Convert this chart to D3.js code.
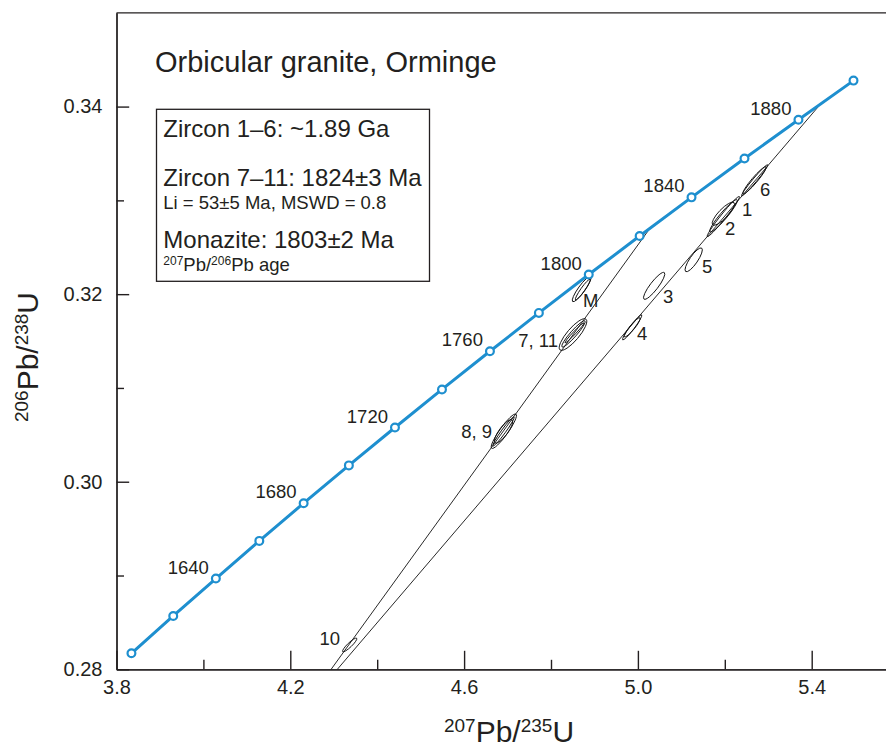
<!DOCTYPE html>
<html>
<head>
<meta charset="utf-8">
<script src="https://cdn.jsdelivr.net/npm/d3@7"></script>
<style>
  html, body { margin: 0; padding: 0; background: #fff; }
  svg { display: block; font-family: "Liberation Sans", Arial, Helvetica, sans-serif; }
</style>
</head>
<body>
<svg id="chart" width="886" height="749"></svg>
<script>
// Concordia points every 20 Ma (age, 207Pb/235U, 206Pb/238U)
const concordiaAge = [1600, 1620, 1640, 1660, 1680, 1700, 1720, 1740, 1760, 1780, 1800, 1820, 1840, 1860, 1880, 1900];
const concordiaX = [3.8344, 3.9306, 4.0287, 4.1287, 4.2307, 4.3348, 4.4409, 4.5491, 4.6595, 4.7721, 4.8869, 5.0040, 5.1234, 5.2453, 5.3695, 5.4962];
const concordiaY = [0.28171, 0.28569, 0.28968, 0.29369, 0.29771, 0.30174, 0.30578, 0.30984, 0.31391, 0.31800, 0.32209, 0.32620, 0.33032, 0.33446, 0.33860, 0.34277];
const labelledAges = [1640, 1680, 1720, 1760, 1800, 1840, 1880];

// Discordia chords: [x1, y1, x2, y2]
const discordiaZircon7to11 = [5.0277, 0.32702, 0.05358, 0.008256]; // 1824 Ma to 53 Ma
const discordiaZircon1to6 = [5.419, 0.3402, 4.200, 0.27413];

// Error ellipses: major-axis ends (x1, y1, x2, y2) and minor/major ratio
const ellipseX1 = [4.8499, 4.8564, 4.8207, 4.8253, 4.8322, 5.1721, 5.1597, 5.1659, 5.2389, 5.2419, 5.1100, 5.0140, 4.9650, 4.9691, 4.6635, 4.6665, 4.6711, 4.3206];
const ellipseY1 = [0.31921, 0.31939, 0.31406, 0.31438, 0.31481, 0.32739, 0.32614, 0.32665, 0.33049, 0.33070, 0.32241, 0.31947, 0.31513, 0.31545, 0.30357, 0.30382, 0.30414, 0.28188];
const ellipseX2 = [4.8914, 4.8898, 4.8805, 4.8782, 4.8759, 5.2212, 5.2334, 5.2281, 5.2987, 5.2948, 5.1468, 5.0608, 5.0087, 5.0048, 4.7194, 4.7148, 4.7103, 4.3528];
const ellipseY2 = [0.32188, 0.32158, 0.31733, 0.31715, 0.31694, 0.32977, 0.33041, 0.33006, 0.33379, 0.33358, 0.32491, 0.32230, 0.31779, 0.31747, 0.30720, 0.30691, 0.30659, 0.28331];
const ellipseRatio = [0.22, 0.16, 0.30, 0.18, 0.10, 0.30, 0.10, 0.17, 0.10, 0.16, 0.28, 0.24, 0.14, 0.20, 0.20, 0.12, 0.30, 0.22];

// Analysis labels: text, position and anchor
const pointLabelText = ["6", "1", "2", "5", "3", "4", "M", "7, 11", "8, 9", "10"];
const pointLabelX = [5.2810, 5.2396, 5.2005, 5.1475, 5.0578, 4.9979, 4.8737, 4.8161, 4.6642, 4.3144];
const pointLabelY = [0.33049, 0.32835, 0.32633, 0.32227, 0.31907, 0.31513, 0.31865, 0.31438, 0.30467, 0.28259];
const pointLabelAnchor = ["start", "start", "start", "start", "start", "start", "start", "end", "end", "end"];

// Axis ticks
const xMajorTicks = [3.8, 4.2, 4.6, 5.0, 5.4];
const xMinorTicks = [4.0, 4.4, 4.8, 5.2];
const yMajorTicks = [0.28, 0.30, 0.32, 0.34];
const yMinorTicks = [0.29, 0.31, 0.33];

const titleText = "Orbicular granite, Orminge";

const svg = d3.select("#chart");
const ink = "#231f20";
const blue = "#1e8fcf";

const plotLeft = 116.5, plotTop = 12.8, plotBottom = 669.3;
const x = d3.scaleLinear().domain([3.8, 5.6]).range([plotLeft, plotLeft + 1.8 * 434.5]);
const y = d3.scaleLinear().domain([0.28, 0.35]).range([plotBottom, plotTop]);

svg.append("defs").append("clipPath").attr("id", "plotClip")
  .append("rect").attr("x", plotLeft).attr("y", plotTop)
  .attr("width", x.range()[1] - plotLeft).attr("height", plotBottom - plotTop);

// Frame top line
svg.append("line")
  .attr("x1", plotLeft).attr("x2", x.range()[1])
  .attr("y1", plotTop).attr("y2", plotTop)
  .attr("stroke", ink).attr("stroke-width", 1.3);

// Axes with inward ticks
function styleAxis(g) {
  g.select(".domain").attr("stroke", ink).attr("stroke-width", 1.3);
  g.selectAll(".tick line").attr("stroke", ink).attr("stroke-width", 1.4);
  g.selectAll(".tick text").attr("fill", ink).attr("font-size", 20)
    .attr("font-family", "Liberation Sans, Arial, sans-serif");
}

svg.append("g").attr("transform", `translate(0,${plotBottom})`)
  .call(d3.axisBottom(x).tickValues(xMinorTicks).tickSize(-9.5).tickSizeOuter(0).tickFormat(""))
  .call(styleAxis);
svg.append("g").attr("transform", `translate(0,${plotBottom})`)
  .call(d3.axisBottom(x).tickValues(xMajorTicks).tickSize(-18.5).tickSizeOuter(0).tickPadding(11).tickFormat(d3.format(".1f")))
  .call(styleAxis);

svg.append("g").attr("transform", `translate(${plotLeft},0)`)
  .call(d3.axisLeft(y).tickValues(yMinorTicks).tickSize(-7.5).tickSizeOuter(0).tickFormat(""))
  .call(styleAxis);
svg.append("g").attr("transform", `translate(${plotLeft},0)`)
  .call(d3.axisLeft(y).tickValues(yMajorTicks).tickSize(-12.7).tickSizeOuter(0).tickPadding(14).tickFormat(d3.format(".2f")))
  .call(styleAxis);

// Text with superscript runs
function richText(sel, parts, size, supSize, rise) {
  let raised = false;
  parts.forEach(p => {
    const t = sel.append("tspan").text(p.t);
    if (p.sup) {
      t.attr("font-size", supSize).attr("dy", raised ? 0 : -rise);
      raised = true;
    } else {
      t.attr("font-size", size).attr("dy", raised ? rise : 0);
      raised = false;
    }
  });
  return sel;
}

// Axis titles
richText(svg.append("text")
  .attr("x", 509).attr("y", 742).attr("text-anchor", "middle").attr("fill", ink),
  [{t: "207", sup: true}, {t: "Pb/"}, {t: "235", sup: true}, {t: "U"}], 30, 19, 10);

richText(svg.append("text")
  .attr("transform", "translate(38,357) rotate(-90)").attr("text-anchor", "middle").attr("fill", ink),
  [{t: "206", sup: true}, {t: "Pb/"}, {t: "238", sup: true}, {t: "U"}], 30, 19, 10);

const plot = svg.append("g").attr("clip-path", "url(#plotClip)");

// Discordia chords
[discordiaZircon7to11, discordiaZircon1to6].forEach(d => {
  plot.append("line")
    .attr("x1", x(d[0])).attr("y1", y(d[1]))
    .attr("x2", x(d[2])).attr("y2", y(d[3]))
    .attr("stroke", "#111").attr("stroke-width", 0.9);
});

// Error ellipses
const ellipses = ellipseX1.map((_, i) => {
  const px1 = x(ellipseX1[i]), py1 = y(ellipseY1[i]);
  const px2 = x(ellipseX2[i]), py2 = y(ellipseY2[i]);
  const a = Math.hypot(px2 - px1, py2 - py1) / 2;
  return {
    cx: (px1 + px2) / 2, cy: (py1 + py2) / 2,
    rx: a, ry: a * ellipseRatio[i],
    angle: Math.atan2(py2 - py1, px2 - px1) * 180 / Math.PI
  };
});
plot.selectAll("ellipse.err").data(ellipses).join("ellipse")
  .attr("class", "err")
  .attr("transform", d => `translate(${d.cx},${d.cy}) rotate(${d.angle})`)
  .attr("rx", d => d.rx).attr("ry", d => d.ry)
  .attr("fill", "none").attr("stroke", "#111").attr("stroke-width", 0.9);

// Concordia curve
const conc = concordiaAge.map((t, i) => ({t, x: concordiaX[i], y: concordiaY[i]}));
plot.append("path").datum(conc)
  .attr("d", d3.line().x(d => x(d.x)).y(d => y(d.y)))
  .attr("fill", "none").attr("stroke", blue).attr("stroke-width", 3);
plot.selectAll("circle.age").data(conc).join("circle")
  .attr("class", "age")
  .attr("cx", d => x(d.x)).attr("cy", d => y(d.y)).attr("r", 3.9)
  .attr("fill", "#fff").attr("stroke", blue).attr("stroke-width", 2.2);

// Age labels on concordia
svg.selectAll("text.agelab").data(conc.filter(d => labelledAges.includes(d.t))).join("text")
  .attr("class", "agelab")
  .attr("x", d => x(d.x) - 7).attr("y", d => y(d.y) - 5)
  .attr("text-anchor", "end").attr("font-size", 18.5).attr("fill", ink)
  .text(d => d.t);

// Analysis labels
svg.selectAll("text.ptlab").data(pointLabelText).join("text")
  .attr("class", "ptlab")
  .attr("x", (d, i) => x(pointLabelX[i])).attr("y", (d, i) => y(pointLabelY[i]))
  .attr("text-anchor", (d, i) => pointLabelAnchor[i])
  .attr("font-size", 18.5).attr("fill", ink)
  .text(d => d);

// Title
svg.append("text").attr("x", 155).attr("y", 71.7)
  .attr("font-size", 29).attr("fill", ink).text(titleText);

// Legend box
svg.append("rect").attr("x", 156.5).attr("y", 109.3).attr("width", 273).attr("height", 172)
  .attr("fill", "#fff").attr("stroke", ink).attr("stroke-width", 1.3);

const boxLines = [
  {parts: [{t: "Zircon 1–6: ~1.89 Ga"}], size: 24, base: 136.7},
  {parts: [{t: "Zircon 7–11: 1824±3 Ma"}], size: 24, base: 185.5},
  {parts: [{t: "Li = 53±5 Ma, MSWD = 0.8"}], size: 18.5, base: 209},
  {parts: [{t: "Monazite: 1803±2 Ma"}], size: 24, base: 247.5},
  {parts: [{t: "207", sup: true}, {t: "Pb/"}, {t: "206", sup: true}, {t: "Pb age"}], size: 18.5, base: 271}
];
boxLines.forEach(l => {
  richText(svg.append("text").attr("x", 163.3).attr("y", l.base).attr("fill", ink),
    l.parts, l.size, 12, 6.5);
});
</script>
</body>
</html>
